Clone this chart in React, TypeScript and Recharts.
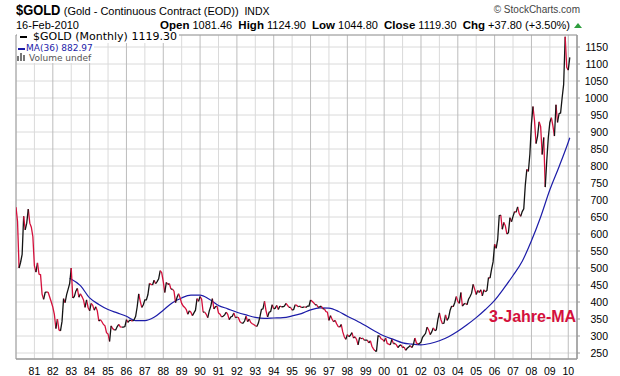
import React from "react";
import {
    ComposedChart,
    Line,
    XAxis,
    YAxis,
    CartesianGrid,
    ReferenceArea,
} from "recharts";

const START_YEAR = 1980;

// monthly closes, Jan 1980 .. Feb 2010, one row per year
const closes: number[] = [
    679, 637, 500, 517, 540, 652, 612, 632, 673, 632, 620, 592,
    506, 488, 515, 482, 480, 423, 408, 428, 430, 428, 414, 400,
    385, 364, 322, 350, 318, 315, 343, 410, 398, 422, 438, 455,
    500, 412, 416, 432, 440, 414, 424, 416, 406, 384, 406, 384,
    374, 396, 390, 376, 386, 374, 344, 348, 342, 334, 330, 310,
    306, 284, 330, 322, 318, 318, 328, 334, 327, 326, 326, 328,
    348, 340, 346, 346, 344, 348, 358, 386, 424, 402, 384, 392,
    406, 406, 422, 455, 452, 450, 464, 454, 460, 468, 492, 486,
    460, 428, 458, 452, 454, 438, 438, 432, 398, 414, 424, 412,
    396, 388, 384, 378, 364, 374, 370, 360, 368, 376, 410, 402,
    416, 408, 370, 370, 364, 354, 374, 388, 410, 380, 386, 388,
    368, 364, 356, 358, 362, 370, 364, 348, 356, 358, 368, 354,
    356, 354, 342, 338, 338, 344, 358, 342, 350, 340, 336, 334,
    330, 328, 338, 356, 378, 380, 402, 374, 356, 370, 372, 392,
    380, 382, 390, 378, 388, 386, 386, 388, 396, 390, 384, 384,
    376, 378, 392, 390, 386, 388, 384, 384, 386, 384, 388, 388,
    406, 402, 398, 392, 392, 384, 386, 388, 380, 380, 372, 370,
    346, 360, 350, 342, 346, 336, 328, 326, 334, 312, 298, 290,
    304, 298, 302, 310, 294, 298, 290, 274, 296, 292, 294, 288,
    288, 288, 280, 286, 270, 262, 256, 256, 300, 300, 292, 290,
    284, 294, 278, 276, 274, 290, 278, 278, 274, 266, 272, 274,
    266, 268, 258, 264, 268, 272, 266, 274, 294, 280, 276, 278,
    282, 296, 302, 308, 326, 318, 304, 312, 324, 316, 318, 348,
    368, 348, 336, 338, 362, 346, 354, 376, 388, 386, 398, 416,
    402, 396, 428, 388, 394, 396, 392, 408, 416, 426, 452, 438,
    422, 434, 428, 436, 418, 436, 430, 434, 472, 470, 496, 518,
    570, 558, 584, 654, 656, 614, 634, 624, 600, 604, 648, 636,
    652, 666, 664, 680, 660, 652, 666, 674, 744, 790, 784, 836,
    924, 975, 934, 866, 888, 930, 916, 834, 884, 738, 816, 884,
    928, 942, 918, 888, 980, 928, 954, 956, 1000, 1040, 1180, 1090,
    1082, 1119.3,
];

// MA(36), month index (0 = Jan 1980) -> value
const maMonths = [
    35, 42, 48, 54, 60, 66, 72, 78, 84, 90, 96, 102, 108, 114, 120, 126, 132,
    138, 144, 150, 156, 162, 168, 174, 180, 186, 192, 198, 204, 210, 216, 222,
    228, 234, 240, 246, 252, 258, 264, 270, 276, 282, 288, 294, 300, 306, 312,
    318, 324, 330, 336, 342, 348, 354, 360, 361,
];
const maValues = [
    470, 448, 412, 393, 378, 368, 358, 345, 345, 355, 376, 398, 412, 420, 420,
    408, 390, 380, 370, 362, 355, 352, 353, 354, 359, 366, 377, 383, 382, 373,
    358, 345, 330, 314, 300, 290, 280, 276, 274, 278, 286, 298, 314, 333, 354,
    378, 405, 440, 478, 520, 580, 650, 730, 798, 870, 883,
];

const yearTicks = [
    "81", "82", "83", "84", "85", "86", "87", "88", "89", "90",
    "91", "92", "93", "94", "95", "96", "97", "98", "99", "00",
    "01", "02", "03", "04", "05", "06", "07", "08", "09", "10",
];
const priceTicks = [
    250, 300, 350, 400, 450, 500, 550, 600, 650, 700,
    750, 800, 850, 900, 950, 1000, 1050, 1100, 1150,
];

const UP = "#141414";
const DOWN = "#d4103c";
const MA_BLUE = "#1c1ca8";
const GRID_LIGHT = "#dadada";
const GRID_DARK = "#bdbdbd";

type Row = { [k: string]: number | string | null };

const rows: Row[] = closes.map((c, i) => ({
    idx: i,
    label: `${START_YEAR + Math.floor(i / 12)}-${(i % 12) + 1}`,
    close: c,
    ma: null,
    s0: null,
    s1: null,
    s2: null,
    s3: null,
}));
maMonths.forEach((m, j) => {
    rows[m].ma = maValues[j];
});

// split the close line into up/down runs so each can get its own colour
const runColor = [UP, DOWN, UP, DOWN];
let run = -1;
let prevUp: boolean | null = null;
for (let i = 0; i < closes.length - 1; i++) {
    const up = closes[i + 1] >= closes[i];
    if (up !== prevUp) {
        run++;
        prevUp = up;
    }
    const key = `s${run % 4}`;
    rows[i][key] = closes[i];
    rows[i + 1][key] = closes[i + 1];
    runColor[run % 4] = up ? UP : DOWN;
}

const xTickValues = yearTicks.map((_, k) => (k + 1) * 12);
const xLabel = (v: number) => yearTicks[v / 12 - 1] ?? "";

const SANS = '"Liberation Sans", Arial, sans-serif';
const VERD = '"DejaVu Sans", Verdana, sans-serif';

const PriceTick = (props: any) => {
    const { x, y, payload } = props;
    return (
        <text x={x + 26} y={y} dy={3.5} textAnchor="end" fontSize={10.5} fontFamily={SANS} fill="#000">
            {payload.value}
        </text>
    );
};

const VGrid = (p: any) => (
    <line
        key={p.key ?? `v${p.index}`}
        x1={p.x1}
        y1={p.y1}
        x2={p.x2}
        y2={p.y2}
        stroke={p.index % 2 === 1 ? GRID_DARK : GRID_LIGHT}
        strokeWidth={1}
    />
);

export default function App() {
    return (
        <div
            style={{
                position: "absolute",
                left: 0,
                top: 0,
                width: 620,
                height: 376,
                background: "#fff",
                overflow: "hidden",
            }}
        >
            <ComposedChart
                width={620}
                height={376}
                data={rows}
                margin={{ top: 35, right: 0, bottom: 0, left: 16 }}
            >
                <CartesianGrid stroke={GRID_LIGHT} vertical={VGrid as any} />
                <XAxis
                    dataKey="idx"
                    type="number"
                    domain={[0, 365.7]}
                    ticks={xTickValues}
                    tickFormatter={xLabel}
                    interval={0}
                    height={17}
                    axisLine={{ stroke: "#9a9a9a" }}
                    tickLine={false}
                    tickMargin={3}
                    tick={{ fontSize: 10.5, fontFamily: SANS, fill: "#000" }}
                    allowDataOverflow
                />
                <YAxis
                    orientation="right"
                    type="number"
                    domain={[232.4, 1185.3]}
                    ticks={priceTicks}
                    interval={0}
                    width={43}
                    axisLine={{ stroke: "#9a9a9a" }}
                    tickLine={{ stroke: "#9a9a9a" }}
                    tickSize={3}
                    tick={<PriceTick />}
                    allowDataOverflow
                />
                <ReferenceArea
                    x1={0}
                    x2={365.7}
                    y1={232.4}
                    y2={1185.3}
                    fill="none"
                    stroke="#9a9a9a"
                    strokeWidth={1}
                />
                <Line
                    dataKey="ma"
                    type="monotone"
                    stroke={MA_BLUE}
                    strokeWidth={1.2}
                    dot={false}
                    connectNulls
                    isAnimationActive={false}
                />
                {["s0", "s1", "s2", "s3"].map((k, i) => (
                    <Line
                        key={k}
                        dataKey={k}
                        type="linear"
                        stroke={runColor[i]}
                        strokeWidth={1.3}
                        dot={false}
                        connectNulls={false}
                        isAnimationActive={false}
                    />
                ))}
            </ComposedChart>

            {/* header */}
            <div style={{ position: "absolute", left: 16, top: 2, whiteSpace: "nowrap", lineHeight: "16px", fontFamily: SANS }}>
                <span style={{ fontWeight: "bold", fontSize: 15, display: "inline-block", transform: "scaleX(0.86)", transformOrigin: "left", marginRight: -7 }}>
                    $GOLD
                </span>
                <span style={{ fontSize: 11 }}> (Gold - Continuous Contract (EOD))</span>
                <span style={{ fontSize: 10.5 }}>&nbsp; INDX</span>
            </div>
            <div style={{ position: "absolute", right: 40, top: 4, whiteSpace: "nowrap", fontFamily: SANS, fontSize: 10, color: "#444" }}>
                © StockCharts.com
            </div>
            <div style={{ position: "absolute", left: 16, top: 19, whiteSpace: "nowrap", fontFamily: SANS, fontSize: 11, lineHeight: "12px" }}>
                16-Feb-2010
            </div>
            <div style={{ position: "absolute", right: 50, top: 19, whiteSpace: "nowrap", fontFamily: SANS, fontSize: 11, lineHeight: "12px" }}>
                <b style={{ fontSize: 11.5 }}>Open</b> 1081.46&nbsp; <b style={{ fontSize: 11.5 }}>High</b> 1124.90&nbsp;{" "}
                <b style={{ fontSize: 11.5 }}>Low</b> 1044.80&nbsp; <b style={{ fontSize: 11.5 }}>Close</b> 1119.30&nbsp;{" "}
                <b style={{ fontSize: 11.5 }}>Chg</b> +37.80 (+3.50%)
            </div>
            <svg style={{ position: "absolute", left: 574, top: 22 }} width={8} height={6}>
                <polygon points="0,6 4,1 8,6" fill="#2e9e3e" />
            </svg>

            {/* legend */}
            <div style={{ position: "absolute", left: 17, top: 31, whiteSpace: "nowrap", fontFamily: VERD, fontSize: 11, background: "#fff", lineHeight: "12px", paddingRight: 2 }}>
                <span style={{ display: "inline-block", width: 7, height: 2, background: "#000", verticalAlign: "middle", margin: "0 6px 0 3px" }} />
                $GOLD (Monthly) 1119.30
            </div>
            <div style={{ position: "absolute", left: 17, top: 43, whiteSpace: "nowrap", fontFamily: VERD, fontSize: 9, color: MA_BLUE, background: "#fff", lineHeight: "10px", paddingRight: 1 }}>
                <span style={{ display: "inline-block", width: 7, height: 2, background: MA_BLUE, verticalAlign: "middle", margin: "0 1px 0 1px" }} />
                MA(36) 882.97
            </div>
            <div style={{ position: "absolute", left: 17, top: 53, whiteSpace: "nowrap", fontFamily: VERD, fontSize: 9, color: "#555", background: "#fff", lineHeight: "10px", paddingRight: 1 }}>
                <svg width={10} height={8} style={{ marginRight: 2 }}>
                    <rect x={0} y={3} width={2} height={5} fill="#777" />
                    <rect x={3} y={0} width={2} height={8} fill="#777" />
                    <rect x={6} y={2} width={2} height={6} fill="#777" />
                </svg>
                Volume undef
            </div>

            <div style={{ position: "absolute", left: 489, top: 308, whiteSpace: "nowrap", fontFamily: SANS, fontWeight: "bold", fontSize: 16, color: DOWN }}>
                3-Jahre-MA
            </div>
        </div>
    );
}
